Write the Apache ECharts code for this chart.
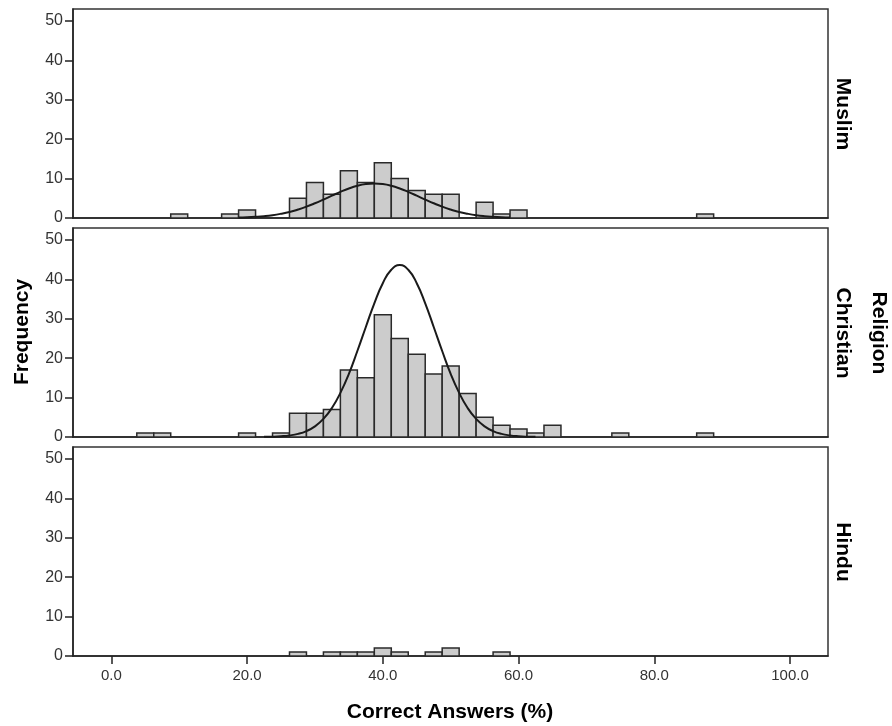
<!DOCTYPE html>
<html>
<head>
<meta charset="utf-8">
<script src="https://cdn.jsdelivr.net/npm/echarts@6/dist/echarts.min.js"></script>
<style>html,body{margin:0;padding:0;background:#fff}#c{width:892px;height:726px}</style>
</head>
<body>
<div id="c"></div>
<script>
// ---- data ----
const panelNames = ['Muslim', 'Christian', 'Hindu'];
const binWidth = 2.5;

const muslimBins   = [10, 17.5, 20, 27.5, 30, 32.5, 35, 37.5, 40, 42.5, 45, 47.5, 50, 55, 57.5, 60, 87.5];
const muslimCounts = [1, 1, 2, 5, 9, 6, 12, 9, 14, 10, 7, 6, 6, 4, 1, 2, 1];

const christianBins   = [5, 7.5, 20, 25, 27.5, 30, 32.5, 35, 37.5, 40, 42.5, 45, 47.5, 50, 52.5, 55, 57.5, 60, 62.5, 65, 75, 87.5];
const christianCounts = [1, 1, 1, 1, 6, 6, 7, 17, 15, 31, 25, 21, 16, 18, 11, 5, 3, 2, 1, 3, 1, 1];

const hinduBins   = [27.5, 32.5, 35, 37.5, 40, 42.5, 47.5, 50, 57.5];
const hinduCounts = [1, 1, 1, 1, 2, 1, 1, 2, 1];

// normal-curve traces
const muslimCurveX = [18.75, 20, 21.25, 22.5, 23.75, 25, 26.25, 27.5, 28.75, 30, 31.25, 32.5, 33.75, 35, 36.25, 37.5, 38.75, 40, 41.25, 42.5, 43.75, 45, 46.25, 47.5, 48.75, 50, 51.25, 52.5, 53.75, 55, 56.25, 57.5, 58.75];
const muslimCurveY = [0.10, 0.17, 0.29, 0.46, 0.71, 1.07, 1.53, 2.14, 2.87, 3.73, 4.68, 5.66, 6.62, 7.48, 8.16, 8.60, 8.75, 8.60, 8.16, 7.48, 6.62, 5.66, 4.68, 3.73, 2.87, 2.14, 1.53, 1.07, 0.71, 0.46, 0.29, 0.17, 0.10];

const christianCurveX = [22.5, 23.75, 25, 26.25, 27.5, 28.75, 30, 31.25, 32.5, 33.75, 35, 36.25, 37.5, 38.75, 40, 41.25, 42.5, 43.75, 45, 46.25, 47.5, 48.75, 50, 51.25, 52.5, 53.75, 55, 56.25, 57.5, 58.75, 60, 61.25, 62.5];
const christianCurveY = [0.04, 0.08, 0.19, 0.40, 0.79, 1.51, 2.70, 4.58, 7.35, 11.2, 16.0, 21.8, 27.9, 33.9, 39.0, 42.4, 43.6, 42.4, 39.0, 33.9, 27.9, 21.8, 16.0, 11.2, 7.35, 4.58, 2.70, 1.51, 0.79, 0.40, 0.19, 0.08, 0.04];

const xTicks = [0, 20, 40, 60, 80, 100];
const yTicks = [0, 10, 20, 30, 40, 50];
const xMin = -5.65, xMax = 105.6;
const yMin = 0, yMax = 53;

// ---- chart ----
const FONT = 'Arial, "Liberation Sans", sans-serif';
const AX = '#222';
const chart = echarts.init(document.getElementById('c'), null, {renderer: 'canvas'});

const gridTops = [9, 228, 447];
const grids = gridTops.map(t => ({
  left: 73, width: 755, top: t, height: 209,
  show: true, borderColor: '#333', borderWidth: 1.5, backgroundColor: '#fff'
}));

const xAxes = [0, 1, 2].map(i => ({
  gridIndex: i, type: 'value', min: xMin, max: xMax,
  axisLine: {show: true, onZero: false, lineStyle: {color: AX, width: 1.5}},
  axisTick: {show: i === 2, length: 8, customValues: xTicks, lineStyle: {color: AX, width: 1.5}},
  axisLabel: {show: i === 2, customValues: xTicks, formatter: v => v.toFixed(1),
              fontSize: 15, color: '#333', fontFamily: FONT, margin: 12},
  splitLine: {show: false}
}));

const yAxes = [0, 1, 2].map(i => ({
  gridIndex: i, type: 'value', min: yMin, max: yMax,
  axisLine: {show: true, onZero: false, lineStyle: {color: AX, width: 1.5}},
  axisTick: {show: true, length: 8, customValues: yTicks, lineStyle: {color: AX, width: 1.5}},
  axisLabel: {customValues: yTicks, fontSize: 16, color: '#333', fontFamily: FONT, margin: 10},
  splitLine: {show: false}
}));

function histSeries(idx, bins, counts) {
  return {
    type: 'custom', xAxisIndex: idx, yAxisIndex: idx, z: 2,
    data: bins.map((b, k) => [b, counts[k]]),
    renderItem: function (params, api) {
      const c = api.value(0), v = api.value(1);
      const p0 = api.coord([c - binWidth / 2, v]);
      const p1 = api.coord([c + binWidth / 2, 0]);
      return {
        type: 'rect',
        shape: {x: p0[0], y: p0[1], width: p1[0] - p0[0], height: p1[1] - p0[1]},
        style: {fill: '#cccccc', stroke: '#2a2a2a', lineWidth: 1.5}
      };
    }
  };
}

function curveSeries(idx, xs, ys) {
  return {
    type: 'line', xAxisIndex: idx, yAxisIndex: idx, z: 5,
    data: xs.map((x, k) => [x, ys[k]]),
    smooth: true, showSymbol: false, silent: true,
    lineStyle: {color: '#1a1a1a', width: 2}
  };
}

const labelStyle = (txt, size) => ({
  text: txt, font: 'bold ' + size + 'px ' + FONT, fill: '#000',
  align: 'center', verticalAlign: 'middle',
  textAlign: 'center', textVerticalAlign: 'middle'
});

const graphics = [
  {type: 'text', x: 843, y: 114, rotation: -Math.PI / 2, style: labelStyle(panelNames[0], 21), z: 10},
  {type: 'text', x: 843, y: 333, rotation: -Math.PI / 2, style: labelStyle(panelNames[1], 21), z: 10},
  {type: 'text', x: 843, y: 552, rotation: -Math.PI / 2, style: labelStyle(panelNames[2], 21), z: 10},
  {type: 'text', x: 879, y: 333, rotation: -Math.PI / 2, style: labelStyle('Religion', 21), z: 10},
  {type: 'text', x: 22, y: 332, rotation: Math.PI / 2, style: labelStyle('Frequency', 21), z: 10},
  {type: 'text', x: 450, y: 712, style: labelStyle('Correct Answers (%)', 21), z: 10}
];

chart.setOption({
  animation: false,
  backgroundColor: '#fff',
  grid: grids,
  xAxis: xAxes,
  yAxis: yAxes,
  graphic: graphics,
  series: [
    histSeries(0, muslimBins, muslimCounts),
    histSeries(1, christianBins, christianCounts),
    histSeries(2, hinduBins, hinduCounts),
    curveSeries(0, muslimCurveX, muslimCurveY),
    curveSeries(1, christianCurveX, christianCurveY)
  ]
});
</script>
</body>
</html>
